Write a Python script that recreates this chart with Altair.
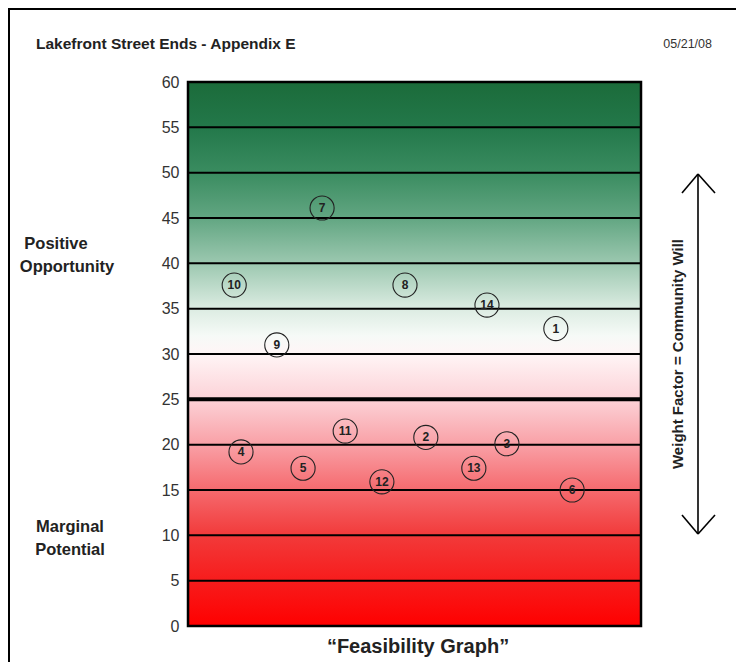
import altair as alt
import pandas as pd

# ---- data ----
ids = ["1", "2", "3", "4", "5", "6", "7", "8", "9", "10", "11", "12", "13", "14"]
feasibility = [81.2, 52.5, 70.4, 11.7, 25.4, 84.8, 29.6, 47.9, 19.6, 10.2, 34.7, 42.8, 63.1, 66.0]
score = [32.8, 20.8, 20.1, 19.2, 17.4, 15.0, 46.1, 37.6, 31.0, 37.6, 21.5, 15.9, 17.4, 35.4]
y_ticks = [0, 5, 10, 15, 20, 25, 30, 35, 40, 45, 50, 55, 60]
band_lines = [5, 10, 15, 20, 30, 35, 40, 45, 50, 55]
mid_line = [25]
grad_vals = [60, 55, 50, 45, 40, 35, 32, 30, 25, 20, 15, 10, 5, 0]
grad_cols = ["#1b6b3a", "#23784a", "#3a8c60", "#62a682", "#9cc8b0", "#dcece2", "#f6faf7",
             "#fff5f6", "#fcd2d7", "#f9a0a6", "#f56a6e", "#f23a3a", "#f71c1c", "#ff0000"]

W, H = 453, 544
XD = [0, 100]
YD = [0, 60]

pts = pd.DataFrame({"id": ids, "x": feasibility, "y": score})
bg = pd.DataFrame({"x": [0], "x2": [100], "y": [0], "y2": [60]})
lines = pd.DataFrame({"y": band_lines})
mid = pd.DataFrame({"y": mid_line})
one = pd.DataFrame({"a": [0]})

xs = alt.Scale(domain=XD, nice=False, zero=False)
ys = alt.Scale(domain=YD, nice=False, zero=False)

gradient = alt.Gradient(
    gradient="linear",
    stops=[alt.GradientStop(color=c, offset=(60 - v) / 60) for v, c in zip(grad_vals, grad_cols)],
    x1=0, x2=0, y1=0, y2=1,
)

background = alt.Chart(bg).mark_rect(color=gradient).encode(
    x=alt.X("x:Q", scale=xs, axis=None),
    x2="x2",
    y=alt.Y("y:Q", scale=ys,
            axis=alt.Axis(values=y_ticks, title=None, ticks=False, domain=False, grid=False,
                          labelFont="Liberation Sans", labelFontSize=16, labelColor="#333333",
                          labelPadding=9)),
    y2="y2",
)

rules = alt.Chart(lines).mark_rule(color="black", strokeWidth=2).encode(
    y=alt.Y("y:Q", scale=ys),
    x=alt.value(0), x2=alt.value(W),
)
rule_mid = alt.Chart(mid).mark_rule(color="black", strokeWidth=4).encode(
    y=alt.Y("y:Q", scale=ys),
    x=alt.value(0), x2=alt.value(W),
)

plot_border = alt.Chart(bg).mark_rect(fill=None, stroke="black", strokeWidth=2.5).encode(
    x=alt.X("x:Q", scale=xs), x2="x2", y=alt.Y("y:Q", scale=ys), y2="y2"
)

circles = alt.Chart(pts).mark_point(shape="circle", size=580, filled=False, color="#222222",
                                    strokeWidth=1.1, opacity=1).encode(
    x=alt.X("x:Q", scale=xs), y=alt.Y("y:Q", scale=ys)
)
labels = alt.Chart(pts).mark_text(font="Liberation Sans", fontSize=12, fontWeight="bold",
                                  color="#222222", baseline="middle", align="center").encode(
    x=alt.X("x:Q", scale=xs), y=alt.Y("y:Q", scale=ys), text="id:N"
)

# annotations (plot origin is at page (188, 82))
def txt(s, px, py, size, weight="bold", align="left", angle=0, color="#222222"):
    kw = dict(font="Liberation Sans", fontSize=size, fontWeight=weight, align=align,
              baseline="middle", color=color, text=s)
    if angle:
        kw["angle"] = angle
    return alt.Chart(one).mark_text(**kw).encode(x=alt.value(px - 188), y=alt.value(py - 82))

title = txt("Lakefront Street Ends - Appendix E", 36, 44, 15.5)
date = txt("05/21/08", 712, 44, 12.5, weight="normal", align="right", color="#333333")
pos1 = txt("Positive", 56, 244, 16.5, align="center")
pos2 = txt("Opportunity", 67, 267, 16.5, align="center")
mar1 = txt("Marginal", 70, 527, 16.5, align="center")
mar2 = txt("Potential", 70, 550, 16.5, align="center")
side = txt("Weight Factor = Community Will", 678, 354, 15, align="center", angle=270)
bottom = txt("\u201cFeasibility Graph\u201d", 418, 647, 20, align="center")

def seg(x1, y1, x2, y2, w=2):
    return alt.Chart(one).mark_rule(color="black", strokeWidth=w).encode(
        x=alt.value(x1 - 188), x2=alt.value(x2 - 188),
        y=alt.value(y1 - 82), y2=alt.value(y2 - 82))

arrow = [
    seg(698, 174, 698, 534, 1.6),
    seg(682, 193, 698, 174, 1.6), seg(698, 174, 715, 193, 1.6),
    seg(682, 515, 698, 534, 1.6), seg(698, 534, 715, 515, 1.6),
]

frame = alt.Chart(one).mark_rect(fill=None, stroke="black", strokeWidth=2).encode(
    x=alt.value(8 - 188 + 1), x2=alt.value(900), y=alt.value(9 - 82), y2=alt.value(900)
)

chart = alt.layer(
    background, rules, rule_mid, plot_border, circles, labels,
    title, date, pos1, pos2, mar1, mar2, side, bottom, *arrow, frame
).properties(
    width=W, height=H,
    autosize=alt.AutoSizeParams(type="none"),
    padding={"left": 180, "top": 74, "right": 95, "bottom": 36},
).configure_view(stroke=None).configure(background="white")

chart.save("out.html", embed_options={"renderer": "svg", "actions": False})
